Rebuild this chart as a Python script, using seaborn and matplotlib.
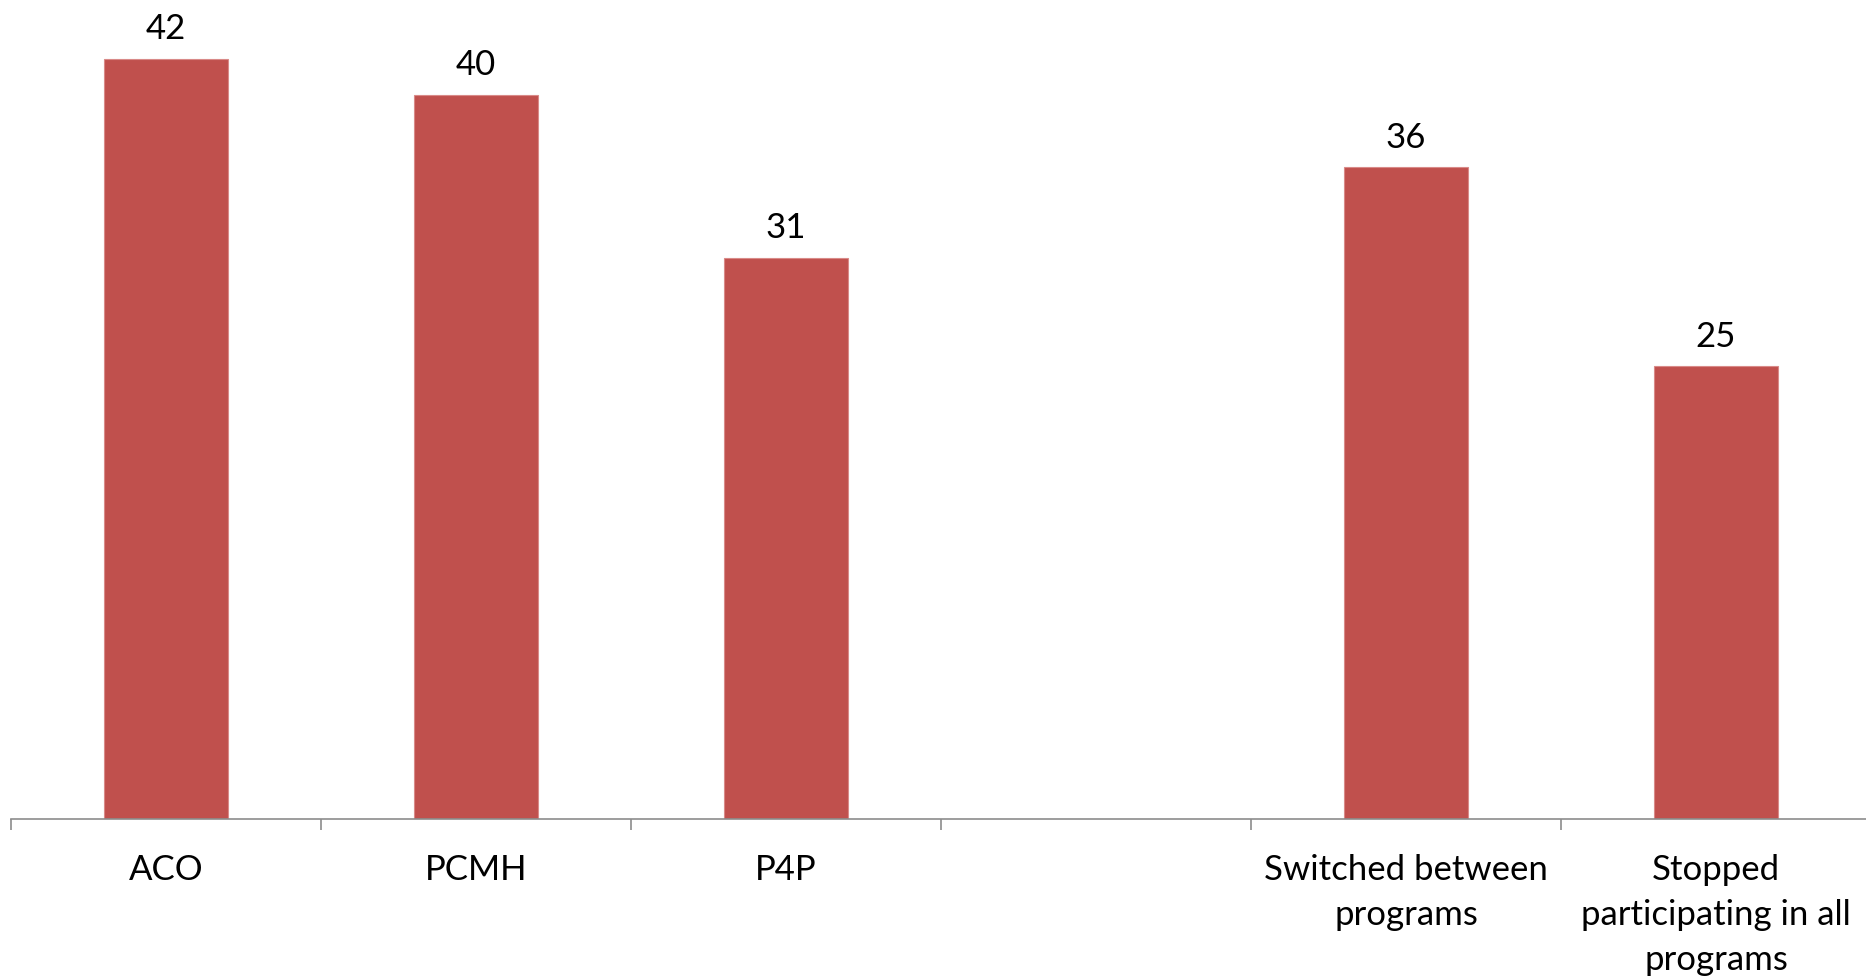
import matplotlib
matplotlib.use("Agg")
import matplotlib.pyplot as plt
from matplotlib.ticker import FixedLocator
import seaborn as sns
import numpy as np

categories = ["ACO", "PCMH", "P4P", " ", "Switched between\nprograms",
              "Stopped\nparticipating in all\nprograms"]
values = [42, 40, 31, np.nan, 36, 25]
value_labels = ["42", "40", "31", "", "36", "25"]

BAR_COLOR = "#C0504D"
AXIS_COLOR = "#8C8C8C"

sns.set_theme(style="white")
plt.rcParams["font.family"] = ["Lato", "DejaVu Sans"]

fig = plt.figure(figsize=(18.66, 9.76), dpi=100)
ax = fig.add_axes([11 / 1866, 157 / 976, 1860 / 1866, 814.5 / 976])

sns.barplot(x=categories, y=values, color=BAR_COLOR, width=0.4,
            saturation=1, edgecolor="#D98A88", linewidth=0.8, ax=ax)

ax.set_xlim(-0.5, len(categories) - 0.5)
ax.set_ylim(0, 45)

for i, (v, lab) in enumerate(zip(values, value_labels)):
    if lab:
        ax.annotate(lab, (i, v), xytext=(0, 10), textcoords="offset points",
                    ha="center", va="bottom", fontsize=25, color="black")

for side in ("top", "right", "left"):
    ax.spines[side].set_visible(False)
ax.spines["bottom"].set_color(AXIS_COLOR)
ax.spines["bottom"].set_linewidth(1.2)

ax.set_yticks([])
ax.set_xticks(range(len(categories)))
ax.set_xticklabels(categories, fontsize=25, color="black", linespacing=1.5,
                   va="top")
ax.tick_params(axis="x", which="major", length=0, pad=25)
ax.xaxis.set_minor_locator(FixedLocator(np.arange(-0.5, len(categories), 1.0)))
ax.tick_params(axis="x", which="minor", length=8, width=1.2,
               color=AXIS_COLOR, direction="out", bottom=True)
ax.set_xlabel("")
ax.set_ylabel("")

fig.savefig("out.png", dpi=100, facecolor="white")
